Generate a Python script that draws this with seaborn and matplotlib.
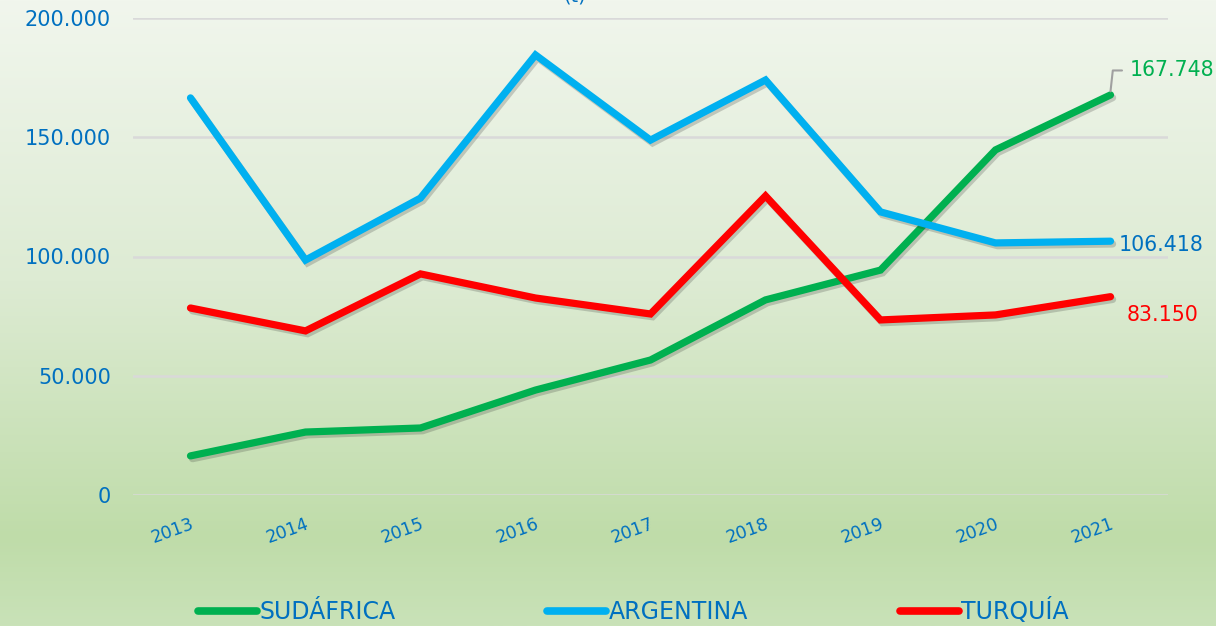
import numpy as np
import pandas as pd
import matplotlib
matplotlib.use("Agg")
import matplotlib.pyplot as plt
import matplotlib.patheffects as pe
from matplotlib.colors import LinearSegmentedColormap
from matplotlib.lines import Line2D
import seaborn as sns

years = ["2013", "2014", "2015", "2016", "2017", "2018", "2019", "2020", "2021"]
sudafrica = [16400, 26400, 28100, 44000, 56600, 81800, 94300, 144700, 167748]
argentina = [166500, 98500, 124500, 184500, 148800, 174000, 118700, 105700, 106418]
turquia = [78400, 68800, 92700, 82600, 75900, 125400, 73400, 75500, 83150]
series_names = ["SUDÁFRICA", "ARGENTINA", "TURQUÍA"]
series_colors = ["#00B050", "#00B0F0", "#FF0000"]
label_colors = ["#00B050", "#0070C0", "#FF0000"]
yticks = [0, 50000, 100000, 150000, 200000]
ytick_labels = ["0", "50.000", "100.000", "150.000", "200.000"]
end_labels = ["167.748", "106.418", "83.150"]

sns.set_theme(style="white")
plt.rcParams["font.family"] = ["DejaVu Sans"]

df = pd.DataFrame({"Año": years * 3,
                   "Valor": sudafrica + argentina + turquia,
                   "Serie": [s for s in series_names for _ in years]})

fig = plt.figure(figsize=(12.16, 6.26), dpi=100)

# background gradient
bg = fig.add_axes([0, 0, 1, 1], zorder=-10)
cmap = LinearSegmentedColormap.from_list(
    "bg", [(0.0, "#F1F6ED"), (0.45, "#DDEBD3"), (0.86, "#BFDCA9"), (1.0, "#C9E2B8")])
grad = np.linspace(0, 1, 256).reshape(-1, 1)
bg.imshow(grad, aspect="auto", cmap=cmap, extent=[0, 1, 1, 0])
bg.axis("off")

ax = fig.add_axes([133 / 1216, 1 - 495 / 626, (1168 - 133) / 1216, (495 - 18) / 626])
ax.patch.set_alpha(0)

sns.lineplot(data=df, x="Año", y="Valor", hue="Serie", palette=series_colors,
             linewidth=5.2, ax=ax, legend=False, sort=False)
for line in ax.get_lines():
    line.set_solid_capstyle("round")
    line.set_solid_joinstyle("miter")
    line.set_path_effects([pe.SimpleLineShadow(offset=(1.5, -2), alpha=0.22, shadow_color="#303030"),
                           pe.Normal()])

ax.set_xlim(-0.5, 8.5)
ax.set_ylim(0, 200000)
ax.set_yticks(yticks)
ax.set_yticklabels(ytick_labels)
ax.yaxis.grid(True, color="#D9D9D9", linewidth=1.8)
ax.set_axisbelow(True)
ax.tick_params(axis="y", colors="#0070C0", labelsize=15, length=0, pad=16)
ax.tick_params(axis="x", colors="#0070C0", labelsize=12.5, length=0, pad=14)
for t in ax.get_xticklabels():
    t.set_rotation(20)
    t.set_ha("right")
    t.set_rotation_mode("anchor")
for s in ax.spines.values():
    s.set_visible(False)
ax.set_xlabel("")
ax.set_ylabel("")

# end labels
offsets = [(8.17, 178000), (8.07, 105000), (8.14, 75400)]
for (xo, yo), txt, c in zip(offsets, end_labels, label_colors):
    ax.text(xo, yo, txt, color=c, fontsize=14.8, ha="left", va="center", clip_on=False)
ax.plot([8.0, 8.02, 8.1], [sudafrica[-1] + 1500, 178000, 178000], color="#A0A0A0",
        linewidth=1.5, clip_on=False)

# title peeking at top
fig.text(575 / 1216, 1.006, "(t)", color="#0070C0", fontsize=14, ha="center", va="center")

# legend
handles = [Line2D([0], [0], color=c, linewidth=5.5, solid_capstyle="round") for c in series_colors]
leg = fig.legend(handles, series_names, loc="center", bbox_to_anchor=(0.521, 0.024),
                 ncol=3, frameon=False, handlelength=2.5, columnspacing=6.4, handletextpad=0.12,
                 borderpad=0.1, prop={"family": ["DejaVu Sans"], "size": 17})
for t in leg.get_texts():
    t.set_color("#0070C0")

fig.savefig("out.png", dpi=100)
